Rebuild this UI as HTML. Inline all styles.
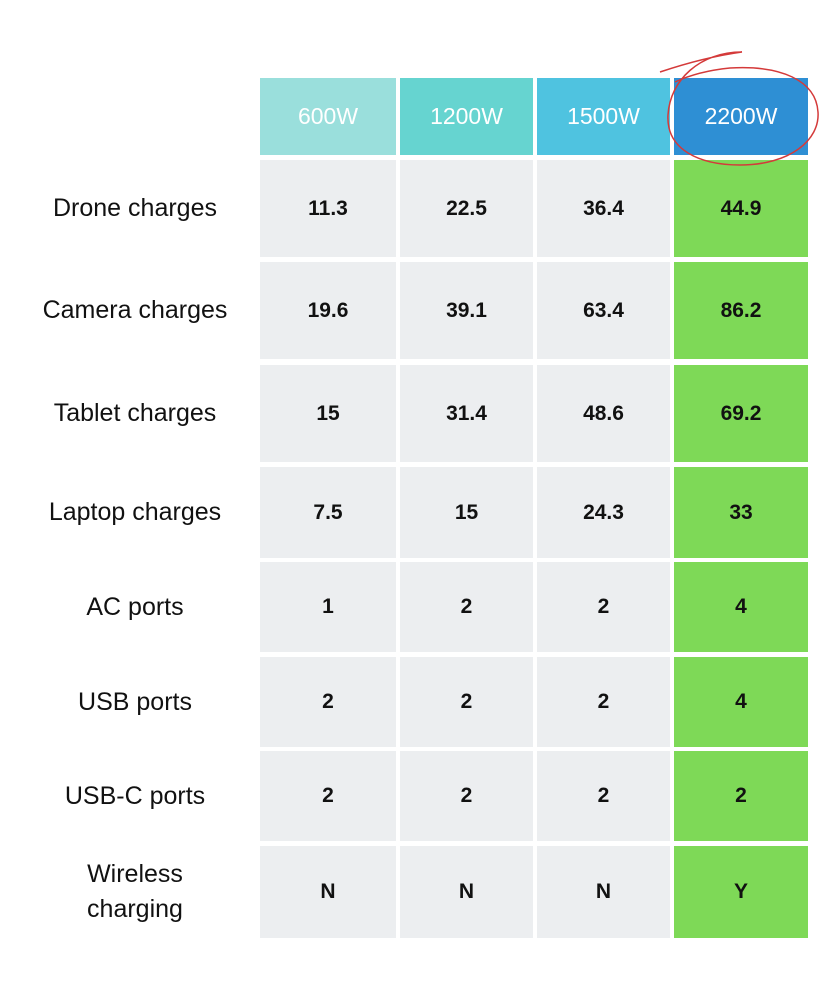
<!DOCTYPE html>
<html><head><meta charset="utf-8"><style>
body{margin:0;width:834px;height:1001px;background:#fff;font-family:"Liberation Sans",sans-serif;position:relative;overflow:hidden}
.c{position:absolute;display:flex;align-items:center;justify-content:center;text-align:center}
.h{color:#fff;font-size:23px}
.v{background:#eceef0;font-weight:bold;font-size:21px;color:#111}
.g{background:#7ed957}
.l{font-size:25px;color:#111;line-height:1.4}
</style></head><body>
<div id="t"></div>
<svg width="834" height="1001" style="position:absolute;left:0;top:0;pointer-events:none">
<path d="M660 72 C690 62,720 55,742 52 M742 52 C700 52,670 80,668 115 C666 150,700 165,740 165 C790 165,820 140,818 112 C816 80,780 65,730 68 C710 70,690 75,675 82" fill="none" stroke="#d43a3a" stroke-width="1.5"/>
</svg>
<script>
const headers=["600W","1200W","1500W","2200W"];
const rowLabels=["Drone charges","Camera charges","Tablet charges","Laptop charges","AC ports","USB ports","USB-C ports","Wireless<br>charging"];
const values=[["11.3","22.5","36.4","44.9"],["19.6","39.1","63.4","86.2"],["15","31.4","48.6","69.2"],["7.5","15","24.3","33"],["1","2","2","4"],["2","2","2","4"],["2","2","2","2"],["N","N","N","Y"]];
const colX=[260,400,537,674],colW=[136,133,133,134];
const hdrCol=["#9adfdc","#66d4d0","#4fc3e0","#2e8fd4"];
const rowY=[160,262,365,467,562,657,751,846],rowH=[97,97,97,91,90,90,90,92];
const t=document.getElementById('t');
function mk(cls,x,y,w,h,html,bg){const d=document.createElement('div');d.className='c '+cls;d.style.cssText=`left:${x}px;top:${y}px;width:${w}px;height:${h}px;`+(bg?`background:${bg};`:'');d.innerHTML=html;t.appendChild(d);return d;}
headers.forEach((h,i)=>{const d=mk('h',colX[i],78,colW[i],77,h,hdrCol[i]);

});
rowLabels.forEach((r,j)=>{const d=mk('l',10,rowY[j],250,rowH[j],r);


values[j].forEach((v,i)=>{const c=mk('v'+(i==3?' g':''),colX[i],rowY[j],colW[i],rowH[j],v);

});});
</script>
</body></html>
